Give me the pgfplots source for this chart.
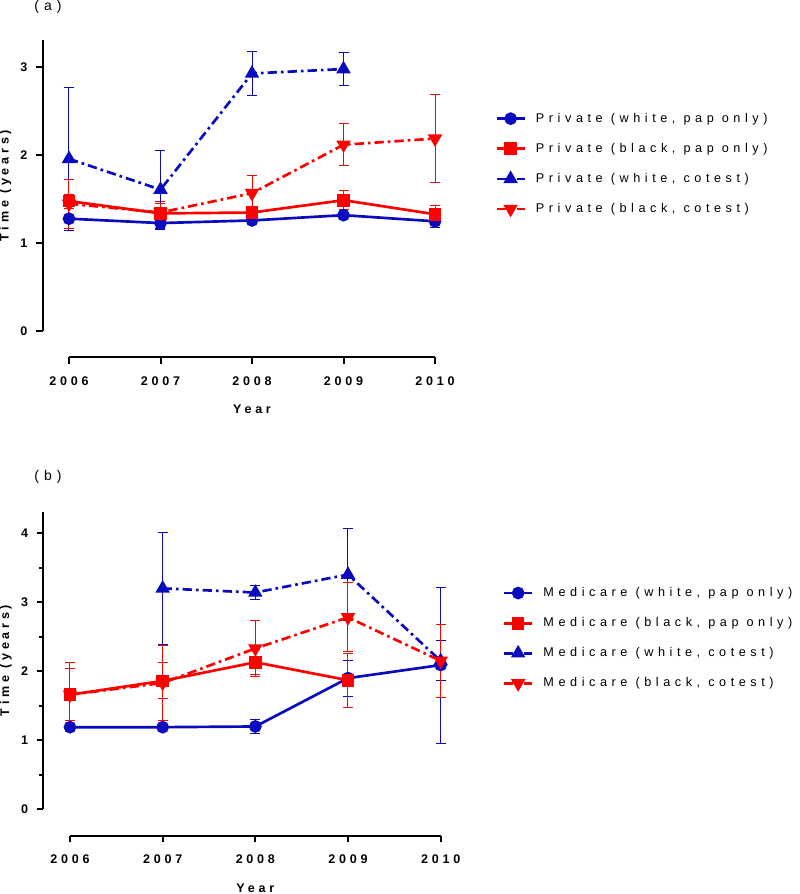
\documentclass[border=0pt]{standalone}
\usepackage{pgfplots}
\pgfplotsset{compat=1.18}
\usepackage{fontspec}
\setmainfont{Liberation Sans}
\newfontfamily\spc[LetterSpace=30]{Liberation Sans}
\newfontfamily\spl[LetterSpace=36]{Liberation Sans}
\definecolor{myblue}{RGB}{10,10,190}
\definecolor{myred}{RGB}{255,0,0}
\newcommand{\tfont}{\spc\bfseries\fontsize{9.4}{11}\selectfont}
\newcommand{\lfont}{\spl\fontsize{9.5}{11}\selectfont}
\pgfplotsset{
  gp/.style={
    scale only axis,
    axis lines=left,
    axis line style={-, line width=1.5pt},
    every tick/.style={line width=1.5pt, black},
    major tick length=5pt,
    minor tick length=3pt,
    tick align=outside,
    clip=false,
    xmin=2006, xmax=2010, ymin=0,
    xtick={2006,2007,2008,2009,2010},
    xticklabels={2006,2007,2008,2009,2010},
    ticklabel style={font=\tfont},
    xticklabel shift=6pt,
    yticklabel shift=3pt,
    label style={font=\tfont},
    xlabel={Year},
    xlabel style={yshift=-8pt},
    ylabel={Time (years)},
    ylabel style={yshift=0pt},
    legend cell align=left,
    legend style={draw=none, fill=none, font=\lfont, anchor=west, row sep=10.2pt, inner sep=0pt, nodes={inner xsep=7.5pt}},
    legend image code/.code={\draw[##1, mark repeat=2, mark phase=2] plot coordinates {(0pt,0pt) (10.5pt,0pt) (21pt,0pt)};},
  },
  ebar/.style={error bars/.cd, y dir=both, y explicit,
     error bar style={solid, line width=0.75pt},
     error mark options={rotate=90, mark size=3.75pt, line width=0.75pt, solid}},
  wp/.style={myblue, line width=2pt, mark=*, mark size=3.75pt, mark options={solid}, ebar},
  bp/.style={myred, line width=2pt, mark=square*, mark size=3.75pt, mark options={solid}, ebar},
  wc/.style={myblue, line width=2pt, dash pattern=on 7pt off 3pt on 2pt off 3pt, mark=triangle*, mark size=4.3pt, mark options={solid}, ebar},
  bc/.style={myred, line width=2pt, dash pattern=on 7pt off 3pt on 2pt off 3pt, mark=triangle*, mark size=4.3pt, mark options={solid, rotate=180}, ebar},
}
\begin{document}
\begin{tikzpicture}
\path[use as bounding box] (0,0) rectangle (600pt,-670.5pt);
\node[font=\lfont\fontsize{10.5}{12}\selectfont] at (36pt,-5pt) {(a)};
\node[font=\lfont\fontsize{10.5}{12}\selectfont] at (36pt,-358pt) {(b)};
\begin{axis}[gp, at={(51.75pt,-248.5pt)}, anchor=south west,
  width=274.5pt, height=218.5pt, ymax=3.31, ytick={0,1,2,3}, yticklabels={0,1,2,3},
  axis x line shift=19.3pt, axis y line shift=19.7pt,
  legend style={at={(1.164,0.575)}}]
\addplot[wp] coordinates {(2006,1.28) +- (0,0.11) (2007,1.23) +- (0,0.06) (2008,1.26) +- (0,0.02) (2009,1.32) +- (0,0.03) (2010,1.25) +- (0,0.07)};
\addlegendentry{Private (white, pap only)}
\addplot[bp] coordinates {(2006,1.48) +- (0,0.08) (2007,1.34) +- (0,0.14) (2008,1.35) +- (0,0.04) (2009,1.49) +- (0,0.11) (2010,1.33) +- (0,0.10)};
\addlegendentry{Private (black, pap only)}
\addplot[wc] coordinates {(2006,1.96) +- (0,0.81) (2007,1.61) +- (0,0.45) (2008,2.93) +- (0,0.25) (2009,2.98) +- (0,0.19)};
\addlegendentry{Private (white, cotest)}
\addplot[bc] coordinates {(2006,1.45) +- (0,0.28) (2007,1.35) +- (0,0.10) (2008,1.57) +- (0,0.20) (2009,2.12) +- (0,0.24) (2010,2.19) +- (0,0.50)};
\addlegendentry{Private (black, cotest)}
\end{axis}
\begin{axis}[gp, at={(52.5pt,-607pt)}, anchor=south west,
  width=278pt, height=223.2pt, ymax=4.31, ytick={0,1,2,3,4}, yticklabels={0,1,2,3,4}, minor y tick num=1,
  axis x line shift=19.8pt, axis y line shift=20pt,
  legend style={at={(1.167,0.575)}}]
\addplot[wp] coordinates {(2006,1.19) +- (0,0.03) (2007,1.19) +- (0,0.03) (2008,1.20) +- (0,0.10) (2009,1.90) +- (0,0.26) (2010,2.09) +- (0,1.13)};
\addlegendentry{Medicare (white, pap only)}
\addplot[bp] coordinates {(2006,1.66) +- (0,0.46) (2007,1.86) +- (0,0.26) (2008,2.13) +- (0,0.18) (2009,1.87) +- (0,0.39)};
\addlegendentry{Medicare (black, pap only)}
\addplot[wc] coordinates {(2007,3.20) +- (0,0.81) (2008,3.14) +- (0,0.10) (2009,3.40) +- (0,0.67) (2010,2.15) +- (0,0.29)};
\addlegendentry{Medicare (white, cotest)}
\addplot[bc] coordinates {(2006,1.66) +- (0,0.38) (2007,1.83) +- (0,0.55) (2008,2.33) +- (0,0.40) (2009,2.78) +- (0,0.50) (2010,2.15) +- (0,0.53)};
\addlegendentry{Medicare (black, cotest)}
\end{axis}
\end{tikzpicture}
\end{document}
